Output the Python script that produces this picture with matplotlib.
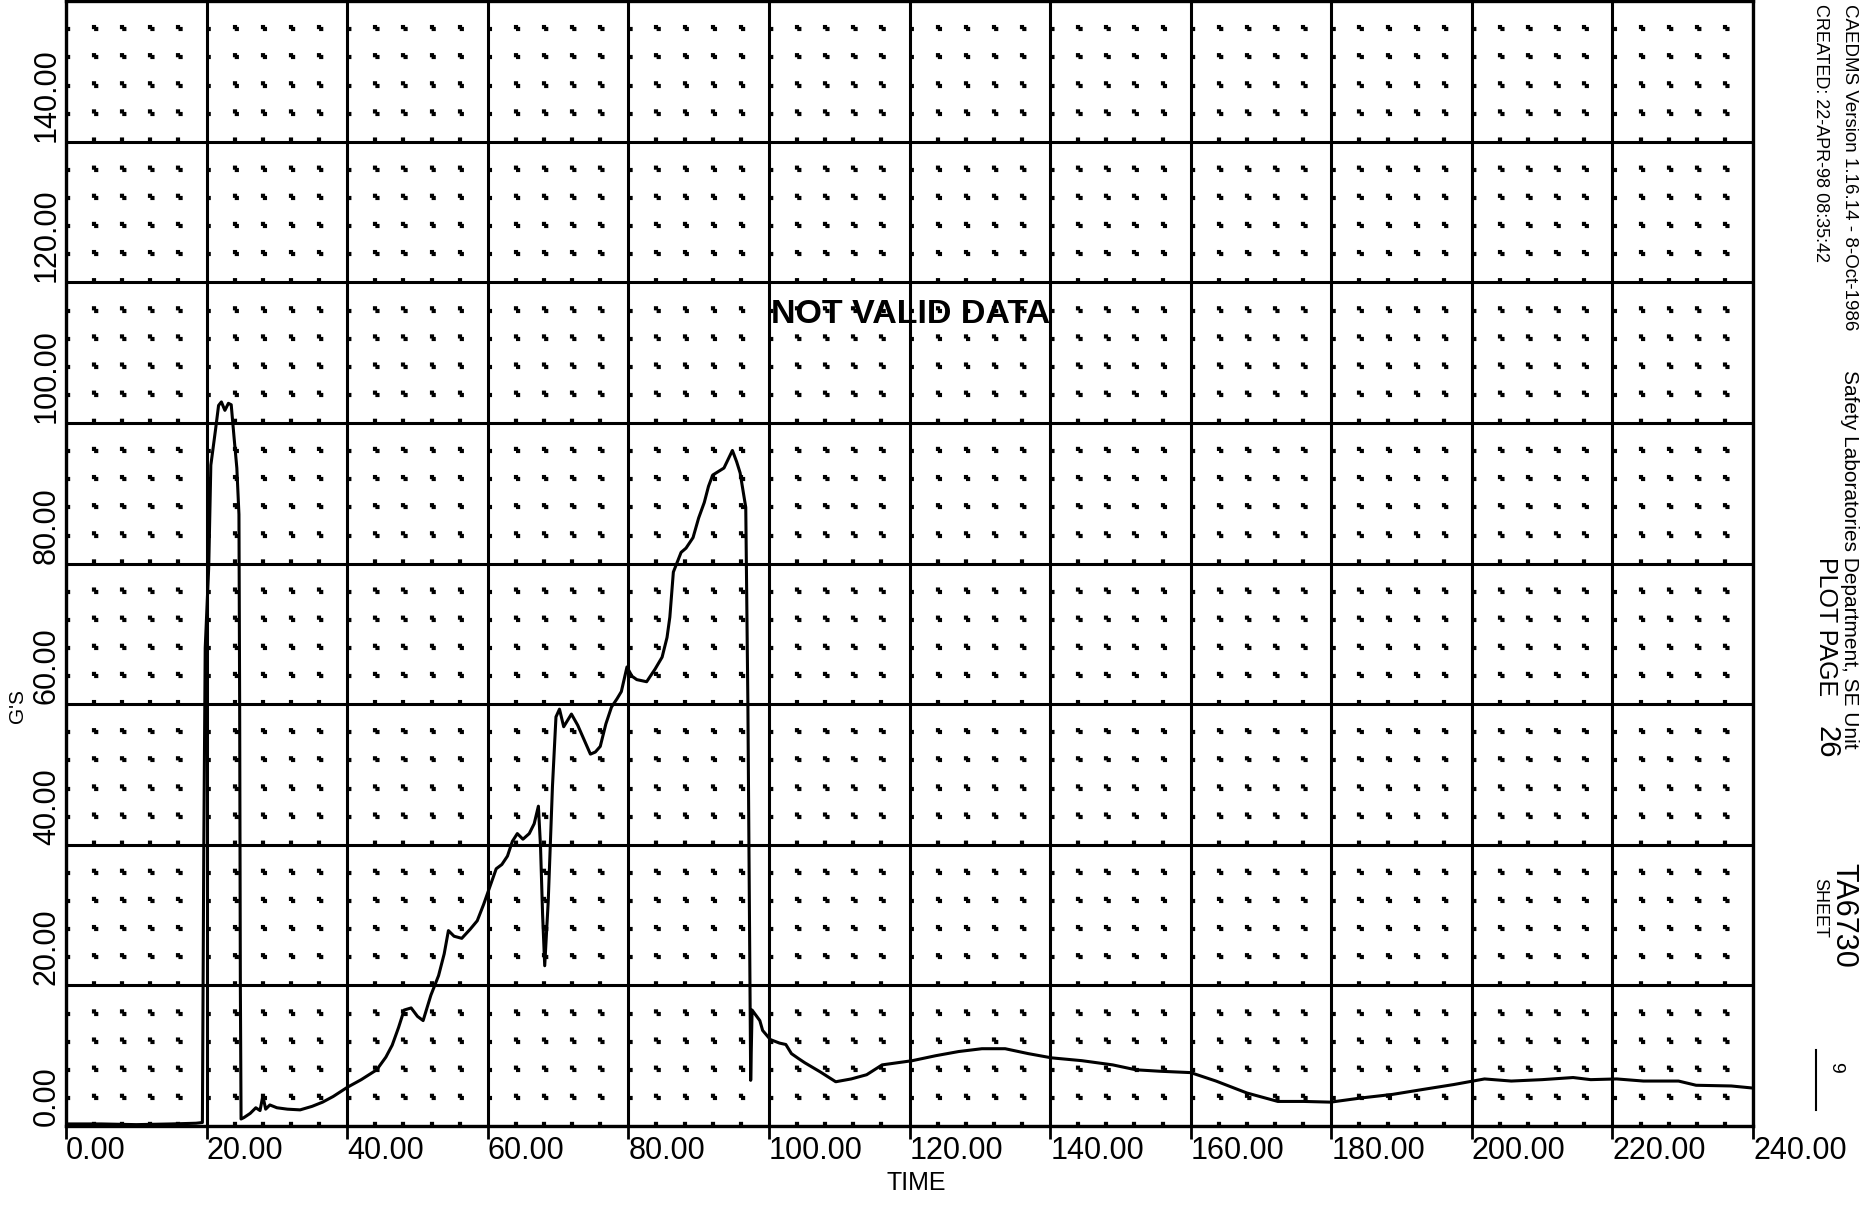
import matplotlib
matplotlib.use("Agg")
import matplotlib.pyplot as plt
from matplotlib.lines import Line2D

plt.rcParams['font.family'] = ['Liberation Sans', 'DejaVu Sans']

# trace (time, G's)
time = [0.0, 5.0, 10.0, 15.0, 18.5, 19.4, 19.6, 19.8, 20.3, 20.6, 21.3, 21.7,
        22.1, 22.6, 23.1, 23.5, 23.9, 24.3, 24.6, 24.7, 24.8, 24.9, 25.3, 26.2,
        27.0, 27.6, 28.0, 28.4, 29.0, 30.0, 31.5, 33.3, 35.0, 36.5, 38.0, 40.0,
        42.0, 44.2, 45.5, 46.4, 47.3, 48.1, 49.1, 50.0, 50.8, 51.9, 53.0, 53.8,
        54.4, 55.2, 56.3, 57.5, 58.5, 59.4, 60.1, 61.2, 62.0, 62.8, 63.5, 64.2,
        65.0, 65.9, 66.6, 67.2, 67.5, 67.8, 68.1, 68.6, 69.2, 69.7, 70.2, 70.8,
        71.9, 72.8, 73.5, 74.6, 75.3, 76.0, 76.8, 77.6, 78.4, 79.0, 79.8, 80.5,
        81.2, 82.6, 83.8, 84.8, 85.5, 85.9, 86.4, 87.5, 88.2, 89.2, 90.0, 90.8,
        91.4, 92.0, 93.6, 94.8, 95.4, 95.9, 96.7, 97.0, 97.3, 97.4, 97.6, 98.7,
        99.1, 100.2, 101.5, 102.4, 103.2, 104.2, 105.1, 107.3, 109.5, 111.7,
        113.9, 116.1, 118.2, 120.4, 123.7, 127.0, 130.3, 133.6, 136.9, 140.2,
        144.5, 148.9, 152.2, 155.5, 160.0, 163.6, 168.0, 172.4, 176.1, 179.9,
        184.3, 188.7, 193.0, 197.4, 201.8, 205.6, 210.0, 214.4, 216.9, 220.6,
        224.4, 229.4, 231.9, 236.9, 240.0]
gs = [0.3, 0.3, 0.2, 0.3, 0.4, 0.5, 40.0, 68.0, 79.5, 94.0, 99.3, 102.5,
      103.0, 101.8, 102.8, 102.6, 98.0, 93.6, 87.0, 60.0, 20.0, 1.0, 1.2, 1.8,
      2.6, 2.2, 4.3, 2.4, 3.0, 2.6, 2.4, 2.3, 2.8, 3.4, 4.2, 5.5,
      6.6, 8.0, 9.8, 11.5, 14.0, 16.5, 16.8, 15.6, 15.0, 18.6, 21.4, 24.5,
      27.8, 27.0, 26.7, 28.0, 29.2, 31.5, 33.5, 36.6, 37.2, 38.4, 40.5, 41.6,
      40.8, 41.6, 43.0, 45.5, 39.8, 30.0, 22.8, 32.0, 48.3, 58.2, 59.3, 56.8,
      58.6, 57.0, 55.4, 52.9, 53.2, 54.0, 57.2, 59.6, 60.8, 61.8, 65.3, 64.0,
      63.5, 63.2, 65.0, 66.7, 69.5, 72.4, 78.8, 81.6, 82.2, 83.7, 86.5, 88.7,
      91.0, 92.6, 93.6, 96.1, 94.5, 92.9, 88.0, 60.3, 21.4, 6.5, 16.5, 15.0,
      13.6, 12.3, 11.8, 11.6, 10.3, 9.6, 9.0, 7.7, 6.3, 6.7,
      7.3, 8.7, 9.0, 9.3, 10.0, 10.6, 11.0, 11.0, 10.3, 9.7,
      9.3, 8.7, 8.0, 7.8, 7.6, 6.4, 4.7, 3.5, 3.5, 3.4,
      4.0, 4.5, 5.2, 5.9, 6.7, 6.4, 6.6, 6.9, 6.6, 6.7,
      6.4, 6.4, 5.8, 5.7, 5.4]

x_ticks = list(range(0, 241, 20))
y_ticks = list(range(0, 141, 20))
x_minor = [v for v in range(0, 241, 4) if v % 20]
y_minor = [v for v in range(0, 160, 4) if v % 20]

fig = plt.figure(figsize=(18.6, 12.06), dpi=100)
ax = fig.add_axes([0.0355, 0.0663, 0.907, 0.9327])

ax.plot(time, gs, color='black', lw=2.2, zorder=3)

ax.set_xlim(0, 240)
ax.set_ylim(0, 160)
ax.set_xticks(x_ticks, [f'{v:.2f}' for v in x_ticks], ha='left', fontsize=22)
ax.set_yticks(y_ticks, [f'{v:.2f}' for v in y_ticks], rotation=90,
              rotation_mode='anchor', ha='left', va='bottom', fontsize=22)
ax.set_xticks(x_minor, minor=True)
ax.set_yticks(y_minor, minor=True)
ax.tick_params(axis='x', which='major', direction='out', length=9, width=2,
               pad=-2, color='black')
ax.tick_params(axis='y', which='major', length=0, pad=3)
ax.tick_params(which='minor', length=0)

ax.grid(which='major', color='black', lw=2.2)
ax.grid(which='minor', color='black', lw=3.0, linestyle=(0, (1.0, 5.75)))
for s in ax.spines.values():
    s.set_linewidth(2.4)
    s.set_color('black')

ax.text(100.3, 115.4, 'NOT VALID DATA', ha='left', va='center',
        fontsize=24.5, fontweight='bold', zorder=4)

fig.text(916 / 1860, 1 - 1183 / 1206, 'TIME', ha='center', va='center',
         fontsize=18)
fig.text(18 / 1860, 1 - 706 / 1206, "G'S", ha='center', va='center',
         rotation=90, fontsize=15)

# plotter header along the right edge
def side(x, y, s, size):
    fig.text(x / 1860, 1 - y / 1206, s, rotation=-90, rotation_mode='anchor',
             ha='left', va='center', fontsize=size)

side(1849, 4, 'CAEDMS Version 1.16.14 - 8-Oct-1986', 13.5)
side(1849, 370, 'Safety Laboratories Department, SE Unit', 15)
side(1843, 863, 'TA6730', 22)
side(1820, 4, 'CREATED: 22-APR-98 08:35:42', 13)
side(1826, 557, 'PLOT PAGE', 18)
side(1826, 726, '26', 21)
side(1820, 878, 'SHEET', 13)
side(1836, 1062, '9', 14)
fig.add_artist(Line2D([1816 / 1860, 1816 / 1860], [1 - 1050 / 1206, 1 - 1110 / 1206],
                      color='black', lw=1.5))

fig.savefig('out.png', dpi=100, facecolor='white')
